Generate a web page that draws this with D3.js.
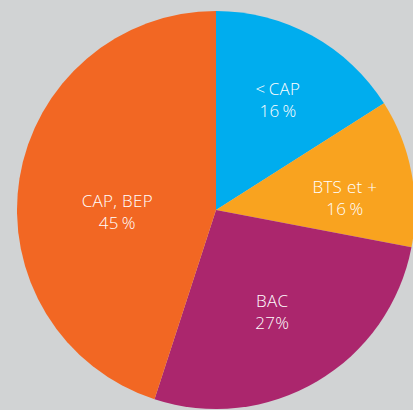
<!DOCTYPE html>
<html>
<head>
<meta charset="utf-8">
<script src="https://cdn.jsdelivr.net/npm/d3@7"></script>
<style>
  html, body { margin: 0; padding: 0; background: #d1d3d4; }
  svg { display: block; }
  .lbl { fill: #fff; font-family: "Open Sans", sans-serif; font-weight: 300; font-size: 17px; letter-spacing: 0.3px; }
</style>
</head>
<body>
<svg id="chart"></svg>
<script>
// categories, clockwise from 12 o'clock
const categories = ["<\u2009CAP", "BTS et +", "BAC", "CAP, BEP"];
// slice shares as drawn (angles)
const shares = [16, 12, 27, 45];
// printed percentage labels
const pctLabels = ["16\u2009%", "16\u2009%", "27%", "45\u2009%"];
const colors = ["#00adee", "#f9a31f", "#ab266d", "#f26723"];

// label placement: angle offset (deg) from slice middle and radius
const labelLayout = [
  {da: 2, r: 121},
  {da: 8, r: 129},
  {da: 3.2, r: 122},
  {da: -13.6, r: 99}
];

const width = 413, height = 410;
const cx = 216, cy = 210, radius = 199;

const svg = d3.select("#chart")
  .attr("width", width)
  .attr("height", height);

const g = svg.append("g")
  .attr("transform", `translate(${cx},${cy})`);

const data = categories.map((c, i) => ({cat: c, value: shares[i], pct: pctLabels[i], i: i}));

const pie = d3.pie()
  .value(d => d.value)
  .sort(null);

const arc = d3.arc()
  .innerRadius(0)
  .outerRadius(radius);

const arcs = pie(data);

g.selectAll("path.slice")
  .data(arcs)
  .join("path")
  .attr("class", "slice")
  .attr("d", arc)
  .attr("fill", d => colors[d.data.i]);

// labels
const lab = g.selectAll("text.lbl")
  .data(arcs)
  .join("text")
  .attr("class", "lbl")
  .attr("text-anchor", "middle")
  .attr("transform", d => {
    const L = labelLayout[d.data.i];
    const a = (d.startAngle + d.endAngle) / 2 + L.da * Math.PI / 180;
    const x = Math.sin(a) * L.r, y = -Math.cos(a) * L.r;
    return `translate(${x},${y})`;
  });

lab.append("tspan")
  .attr("x", 0)
  .attr("dy", -11)
  .text(d => d.data.cat);

lab.append("tspan")
  .attr("x", 0)
  .attr("dy", 22)
  .text(d => d.data.pct);
</script>
</body>
</html>
